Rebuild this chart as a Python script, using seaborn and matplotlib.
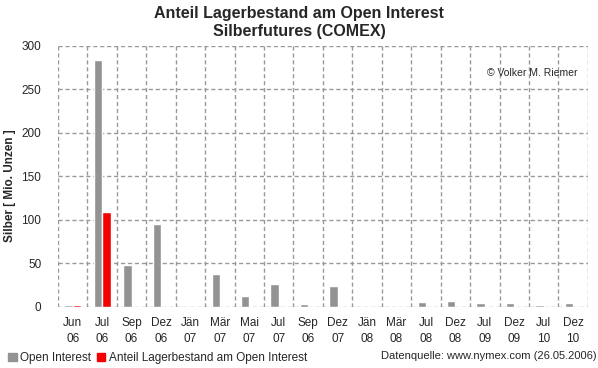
import matplotlib
matplotlib.use("Agg")
import matplotlib.pyplot as plt
from matplotlib.patches import Patch
from matplotlib.ticker import MultipleLocator
import numpy as np
import pandas as pd
import seaborn as sns

# Kontraktmonate (x-Achse)
kontrakte = ["Jun\n06", "Jul\n06", "Sep\n06", "Dez\n06", "Jän\n07", "Mär\n07",
             "Mai\n07", "Jul\n07", "Sep\n06", "Dez\n07", "Jän\n08", "Mär\n08",
             "Jul\n08", "Dez\n08", "Jul\n09", "Dez\n09", "Jul\n10", "Dez\n10"]
# Werte in Mio. Unzen
open_interest = [2.3, 284, 48, 95, 0, 38, 13, 26, 3, 24, 0, 0, 6, 7, 4, 5, 2.5, 4]
lagerbestand = [2.3, 109, 0, 0, 0, 0, 0, 0, 0, 0, 0, 0, 0, 0, 0, 0, 0, 0]

serien = ["Open Interest", "Anteil Lagerbestand am Open Interest"]
farben = ["#939393", "#F40000"]

n = len(kontrakte)
df = pd.DataFrame({
    "pos": list(range(n)) * 2,
    "wert": open_interest + lagerbestand,
    "serie": [serien[0]] * n + [serien[1]] * n,
})

sns.set_style("white")
plt.rcParams["font.family"] = ["Liberation Sans", "DejaVu Sans"]

fig = plt.figure(figsize=(5.98, 3.68), dpi=100)
ax = fig.add_axes([0.097, 0.166, 0.886, 0.709])

sns.barplot(data=df, x="pos", y="wert", hue="serie", palette=farben,
            width=0.57, dodge=True, legend=False, ax=ax, saturation=1)

ax.set_xlim(-0.5, n - 0.5)
ax.set_ylim(0, 300)
ax.yaxis.set_major_locator(MultipleLocator(50))
ax.set_xticks(range(n))
ax.set_xticklabels(kontrakte, fontsize=8.5, linespacing=1.45)
ax.set_xticks(np.arange(-0.5, n, 1.0), minor=True)
ax.tick_params(axis="y", labelsize=8.5, length=0, pad=12)
ax.tick_params(axis="x", which="both", length=0, pad=7)
ax.set_xlabel("")
ax.set_ylabel("")
fig.text(0.016, 0.495, "Silber [ Mio. Unzen ]", rotation=90, ha="center", va="center",
         fontsize=8.5, fontweight="bold")

ax.grid(True, axis="y", which="major", color="#999999", linestyle=(0, (3, 2)), linewidth=1)
ax.grid(True, axis="x", which="minor", color="#999999", linestyle=(0, (3, 2)), linewidth=1)
ax.set_axisbelow(True)
for sp in ax.spines.values():
    sp.set_visible(False)

ax.text(0.98, 0.895, "© Volker M. Riemer", transform=ax.transAxes,
        ha="right", va="center", fontsize=7.5)

fig.text(0.5, 0.985, "Anteil Lagerbestand am Open Interest\nSilberfutures (COMEX)",
         ha="center", va="top", fontsize=11.5, fontweight="bold", linespacing=1.25)

handles = [Patch(color=c) for c in farben]
fig.legend(handles, serien, loc="lower left", bbox_to_anchor=(0.0, -0.012), ncol=2,
           frameon=False, fontsize=8.5, handlelength=0.7, handleheight=0.7,
           handletextpad=0.3, columnspacing=0.5, borderaxespad=0.3)
fig.text(0.997, 0.018, "Datenquelle: www.nymex.com (26.05.2006)",
         ha="right", va="bottom", fontsize=8)

fig.savefig("out.png", dpi=100)
